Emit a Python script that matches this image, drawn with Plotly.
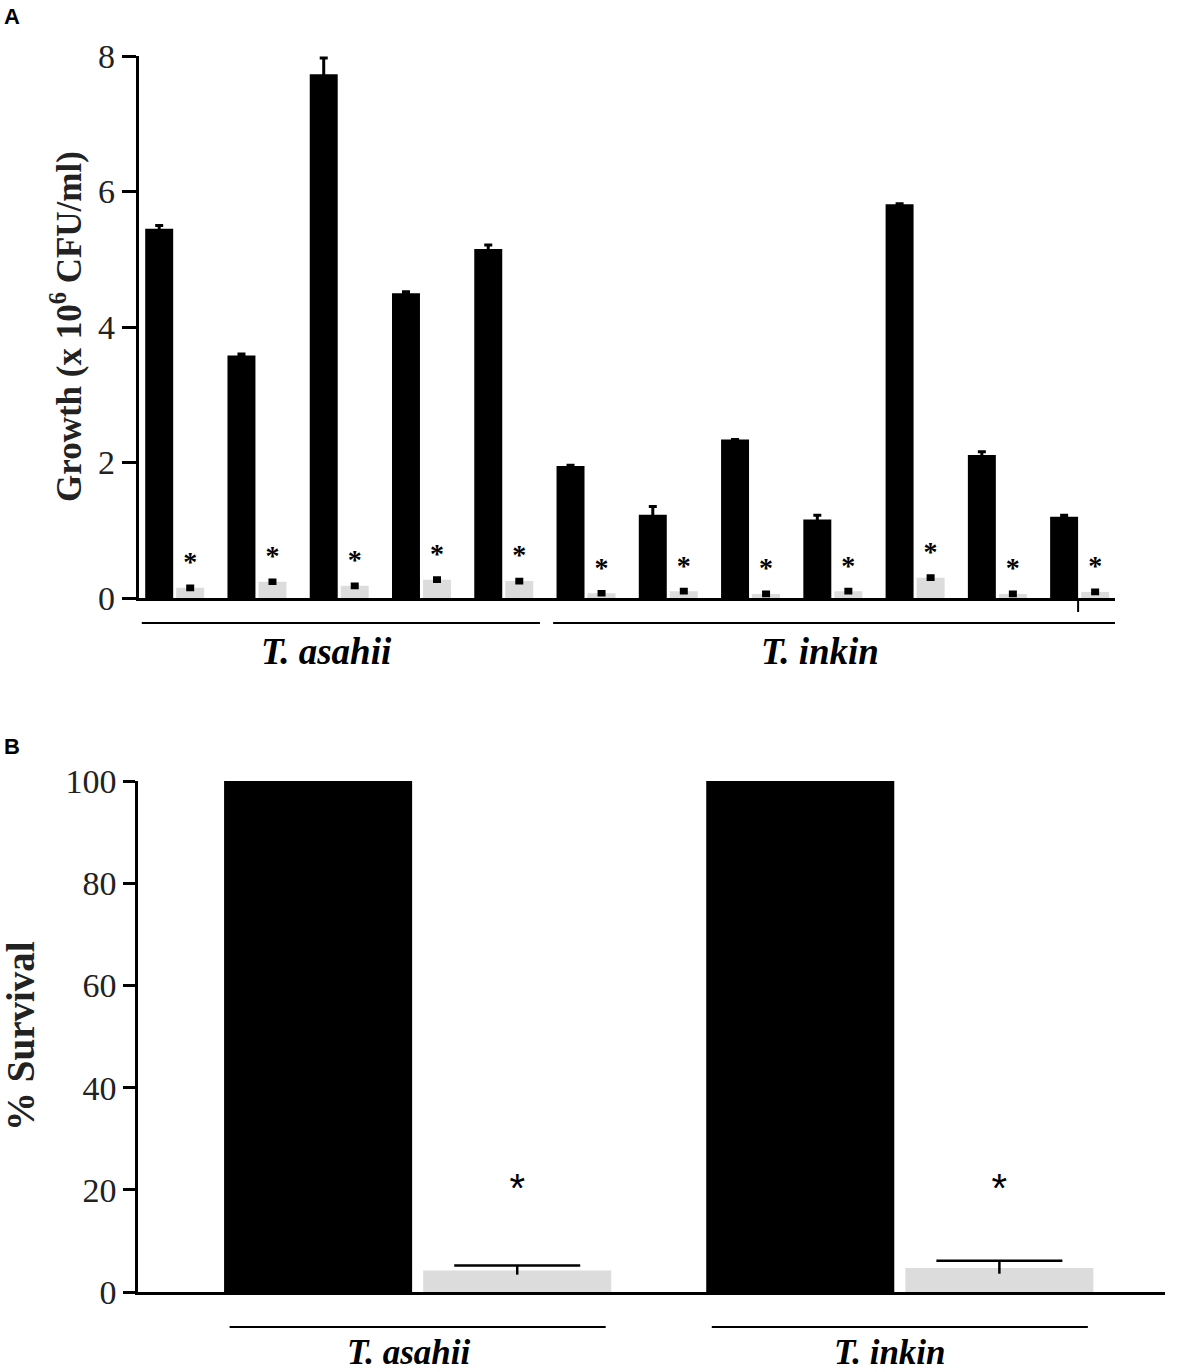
import plotly.graph_objects as go

# Panel A - growth of each isolate (x 10^6 CFU/ml), control vs treated
strainsA = list(range(12))
controlA = [5.45, 3.58, 7.73, 4.50, 5.15, 1.95, 1.23, 2.34, 1.16, 5.81, 2.11, 1.20]
controlErrA = [0.05, 0.02, 0.24, 0.02, 0.06, 0.01, 0.12, 0.0, 0.06, 0.01, 0.05, 0.02]
treatedA = [0.15, 0.24, 0.18, 0.27, 0.25, 0.07, 0.10, 0.06, 0.10, 0.30, 0.06, 0.09]
treatedErrA = [0.02, 0.02, 0.02, 0.02, 0.02, 0.02, 0.02, 0.02, 0.02, 0.02, 0.02, 0.02]
groupsA = {'T. asahii': [0, 4], 'T. inkin': [5, 11]}
ticksA = [0, 2, 4, 6, 8]

# Panel B - % survival per species
speciesB = [0, 1]
speciesNames = ['T. asahii', 'T. inkin']
controlB = [100, 100]
treatedB = [4.2, 4.7]
treatedErrB = [1.0, 1.4]
ticksB = [0, 20, 40, 60, 80, 100]
starLevelB = 19.5

W, H = 1182, 1372
serif = 'Liberation Serif'

# bar geometry (in category units)
wA, gapA = 0.34, 0.037
wB, gapB = 0.39, 0.023

fig = go.Figure()

# Panel A bars
fig.add_trace(go.Bar(x=strainsA, y=controlA, width=wA, offset=-(gapA / 2 + wA),
                     marker=dict(color='black', line=dict(width=0)),
                     error_y=dict(type='data', array=controlErrA, color='black', thickness=3, width=4),
                     xaxis='x', yaxis='y', showlegend=False))
fig.add_trace(go.Bar(x=strainsA, y=treatedA, width=wA, offset=gapA / 2,
                     marker=dict(color='#dcdcdc', line=dict(width=0)),
                     error_y=dict(type='data', array=treatedErrA, color='black', thickness=4, width=4),
                     xaxis='x', yaxis='y', showlegend=False))
fig.add_trace(go.Scatter(x=[i + gapA / 2 + wA / 2 for i in strainsA],
                         y=[t + e + 0.33 for t, e in zip(treatedA, treatedErrA)],
                         mode='text', text=['<b>*</b>'] * len(strainsA),
                         textfont=dict(family=serif, size=28, color='black'),
                         xaxis='x', yaxis='y', showlegend=False))

# Panel B bars
fig.add_trace(go.Bar(x=speciesB, y=controlB, width=wB, offset=-(gapB / 2 + wB),
                     marker=dict(color='black', line=dict(width=0)),
                     xaxis='x2', yaxis='y2', showlegend=False))
fig.add_trace(go.Bar(x=speciesB, y=treatedB, width=wB, offset=gapB / 2,
                     marker=dict(color='#dcdcdc', line=dict(width=0)),
                     xaxis='x2', yaxis='y2', showlegend=False))
# error bar: cap on top, stem running down into the bar
fig.add_trace(go.Scatter(x=[i + gapB / 2 + wB / 2 for i in speciesB],
                         y=[t + e for t, e in zip(treatedB, treatedErrB)],
                         mode='markers',
                         marker=dict(symbol='line-ew', size=90, line=dict(color='black', width=2.5)),
                         error_y=dict(type='data', symmetric=False, array=[0] * len(speciesB),
                                      arrayminus=[e * 1.8 for e in treatedErrB],
                                      color='black', thickness=2.5, width=0),
                         xaxis='x2', yaxis='y2', showlegend=False))
fig.add_trace(go.Scatter(x=[i + gapB / 2 + wB / 2 for i in speciesB], y=[starLevelB] * len(speciesB),
                         mode='text', text=['*'] * len(speciesB),
                         textfont=dict(family='Liberation Sans', size=40, color='black'),
                         xaxis='x2', yaxis='y2', showlegend=False))

shapes = []
annotations = []

# group lines and labels, panel A
for name, (first, last) in groupsA.items():
    shapes.append(dict(type='line', xref='x', yref='paper', x0=first - 0.4, x1=last + 0.44,
                       y0=1 - 623 / H, y1=1 - 623 / H, line=dict(color='black', width=2)))
    annotations.append(dict(xref='x', yref='paper', x=(first + last) / 2 - 0.15, y=1 - 651 / H,
                            xanchor='center', yanchor='middle',
                            text='<b><i>' + name + '</i></b>', showarrow=False,
                            font=dict(family=serif, size=37, color='black')))
# stray tick under the last bar
shapes.append(dict(type='line', xref='x', yref='paper', x0=strainsA[-1] - gapA / 2, x1=strainsA[-1] - gapA / 2,
                   y0=1 - 598 / H, y1=1 - 612 / H, line=dict(color='black', width=2)))

# group lines and labels, panel B
for i, name in zip(speciesB, speciesNames):
    shapes.append(dict(type='line', xref='x2', yref='paper', x0=i - 0.39, x1=i + 0.39,
                       y0=1 - 1327 / H, y1=1 - 1327 / H, line=dict(color='black', width=2)))
    annotations.append(dict(xref='x2', yref='paper', x=i - 0.02, y=1 - 1352 / H,
                            xanchor='center', yanchor='middle',
                            text='<b><i>' + name + '</i></b>', showarrow=False,
                            font=dict(family=serif, size=35, color='black')))

# axis titles
annotations.append(dict(xref='paper', yref='paper', x=66 / W, y=1 - 327 / H, textangle=-90,
                        xanchor='center', yanchor='middle',
                        text='<b>Growth (x 10<sup>6</sup> CFU/ml)</b>', showarrow=False,
                        font=dict(family=serif, size=35, color='#222')))
annotations.append(dict(xref='paper', yref='paper', x=20 / W, y=1 - 1036 / H, textangle=-90,
                        xanchor='center', yanchor='middle',
                        text='<b>% Survival</b>', showarrow=False,
                        font=dict(family=serif, size=39, color='#222')))

# panel letters
annotations.append(dict(xref='paper', yref='paper', x=2 / W, y=1 - 17 / H, xanchor='left', yanchor='middle',
                        text='<b>A</b>', showarrow=False,
                        font=dict(family='Liberation Sans', size=22, color='black')))
annotations.append(dict(xref='paper', yref='paper', x=2 / W, y=1 - 746 / H, xanchor='left', yanchor='middle',
                        text='<b>B</b>', showarrow=False,
                        font=dict(family='Liberation Sans', size=22, color='black')))

xcommon = dict(showline=True, linecolor='black', linewidth=2.5, showticklabels=False,
               ticks='', showgrid=False, zeroline=False, automargin=False)
ycommon = dict(showline=True, linecolor='black', linewidth=2.5, ticks='outside', tickwidth=2.5,
               tickcolor='black', showgrid=False, zeroline=False, automargin=False,
               tickfont=dict(family=serif, size=34, color='#222'))

fig.update_layout(
    width=W, height=H,
    margin=dict(l=0, r=0, t=0, b=0, pad=0),
    paper_bgcolor='white', plot_bgcolor='white',
    barmode='overlay',
    xaxis=dict(domain=[138.5 / W, 1115 / W], range=[-0.44, 11.43], anchor='y', **xcommon),
    yaxis=dict(domain=[1 - 598 / H, 1 - 56 / H], range=[0, 8], tickvals=ticksA, ticklen=14,
               anchor='x', **ycommon),
    xaxis2=dict(domain=[138 / W, 1165 / W], range=[-0.58, 1.55], anchor='y2', **xcommon),
    yaxis2=dict(domain=[1 - 1292 / H, 1 - 781 / H], range=[0, 100], tickvals=ticksB, ticklen=12,
                anchor='x2', **ycommon),
    shapes=shapes,
    annotations=annotations,
)

fig.write_html("out.html", config={'displayModeBar': False},
               post_script="document.body.style.margin='0px';")
